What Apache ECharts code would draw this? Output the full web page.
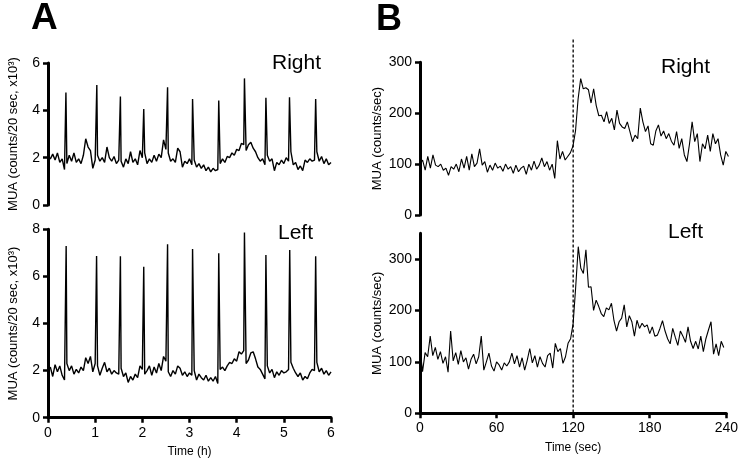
<!DOCTYPE html>
<html><head><meta charset="utf-8">
<script src="https://cdn.jsdelivr.net/npm/echarts@6/dist/echarts.min.js"></script>
<style>html,body{margin:0;padding:0;background:#fff}#c{width:741px;height:463px}</style>
</head><body><div id="c"></div>
<script>
// ---------- DATA ----------
// Panel A: MUA (counts/20 sec, x10^3) vs time (h); baseline sampled every 0.05 h, spikes listed separately
const A_STEP = 0.05;
const aXTicks = [0, 1, 2, 3, 4, 5, 6];
const aRightBaseline = [
  2.05, 1.95, 2.15, 1.9, 2.2, 1.8, 1.95, 1.5, 1.75, 2.1,
  1.85, 2.2, 1.8, 1.95, 1.75, 2.1, 2.8, 2.45, 2.3, 1.55,
  1.9, 2.1, 1.85, 2.0, 1.8, 2.45, 2.0, 1.85, 2.05, 1.75,
  1.9, 1.85, 1.6, 1.95, 1.75, 2.25, 1.8, 1.95, 1.7, 2.3,
  2.0, 2.2, 1.75, 1.95, 1.8, 2.1, 1.85, 2.15, 2.0, 2.75,
  2.35, 2.2, 1.85, 1.95, 1.8, 2.4, 2.25, 1.6, 1.85, 1.75,
  1.95, 1.7, 1.9, 1.6, 1.75, 1.55, 1.7, 1.45, 1.6, 1.4,
  1.55, 1.45, 1.5, 1.75, 1.95, 1.8, 2.05, 2.0, 2.2, 2.1,
  2.35, 2.3, 2.6, 2.55, 2.3, 2.55, 2.65, 2.4, 2.25, 2.0,
  1.85, 1.95, 1.7, 2.1, 1.85, 1.95, 1.45, 1.8, 1.7, 1.9,
  1.75, 2.0, 1.85, 2.25, 1.7, 1.8, 1.5, 1.65, 1.45, 1.9,
  1.8, 1.95, 1.85, 1.9, 2.25, 1.85, 2.05, 1.75, 1.95, 1.7,
  1.8
];
const aRightSpikeTimes = [0.38, 1.035, 1.535, 2.03, 2.535, 3.065, 3.62, 4.165, 4.62, 5.12, 5.675];
const aRightSpikePeaks = [4.75, 5.07, 4.58, 4.06, 4.97, 4.48, 4.41, 5.35, 4.53, 4.55, 4.48];

const aLeftBaseline = [
  2.0, 2.15, 1.75, 2.25, 1.95, 2.2, 1.8, 1.6, 2.3, 2.0,
  2.2, 1.85, 2.05, 1.9, 2.15, 2.0, 2.55, 2.3, 2.6, 1.95,
  2.3, 2.2, 1.8, 2.1, 2.35, 1.95, 2.1, 1.85, 2.0, 1.9,
  1.85, 2.1, 1.75, 1.9, 1.5, 1.75, 1.6, 1.85, 1.7, 2.2,
  2.05, 1.85, 2.0, 2.2, 1.8, 2.15, 1.9, 2.3, 2.0, 2.6,
  2.4, 1.95, 1.75, 2.0, 1.85, 2.2, 2.1, 1.8, 1.95, 1.75,
  1.9, 1.8, 2.0, 1.6, 1.85, 1.7, 1.6, 1.8, 1.55, 1.7,
  1.55, 1.75, 1.45, 2.05, 2.15, 2.0, 2.2, 2.35, 2.3, 2.5,
  2.4, 2.8, 2.7, 2.85, 2.3, 2.45, 2.75, 2.8, 2.5, 2.15,
  2.05, 1.85, 1.65, 2.2, 1.9, 2.05, 1.7, 1.95, 1.8, 2.0,
  1.9, 1.95, 2.05, 2.35, 2.1, 1.9, 1.75, 1.9, 1.6, 1.75,
  1.65, 1.9, 2.05, 2.0, 2.35, 1.95, 2.1, 1.85, 2.0, 1.8,
  1.95
];
const aLeftSpikeTimes = [0.385, 1.03, 1.535, 2.03, 2.535, 3.065, 3.62, 4.165, 4.62, 5.125, 5.675];
const aLeftSpikePeaks = [7.29, 6.87, 6.86, 6.41, 7.37, 7.16, 6.98, 7.86, 6.91, 7.12, 6.86];

// Panel B: MUA (counts/sec) vs time (sec), sampled every 2 s
const B_STEP = 2;
const bXTicks = [0, 60, 120, 180, 240];
const bStimTime = 120;
const bRight = [
  100, 108, 88, 115, 92, 118, 98, 95, 100, 88,
  92, 78, 95, 90, 100, 85, 110, 92, 115, 88,
  120, 95, 102, 130, 98, 105, 84, 98, 88, 102,
  92, 96, 86, 100, 90, 95, 82, 98, 85, 92,
  96, 80, 100, 88, 106, 90, 98, 112, 95, 105,
  88, 100, 72, 146, 110, 125, 108, 115, 122, 135,
  165, 228, 268, 248, 250, 246, 220, 248, 215, 195,
  196, 183, 203, 180, 190, 167, 206, 180, 173, 170,
  183, 164, 144, 157, 150, 210, 183, 164, 175, 140,
  137, 165, 177, 155, 165, 150, 160, 145, 137, 164,
  131, 150, 118, 105, 140, 183, 144, 160, 105, 140,
  130, 157, 125, 160, 140, 150, 118, 98, 125, 115
];
const bLeft = [
  126, 81, 118, 110, 150, 112, 128, 105, 120, 97,
  110, 80, 160, 102, 118, 95, 122, 100, 108, 86,
  105, 115, 96, 110, 150, 84, 100, 117, 92, 82,
  100, 94, 84, 98, 92, 100, 117, 96, 112, 90,
  108, 84, 103, 126, 98, 112, 90, 110, 97, 90,
  112, 117, 88, 136, 120, 126, 97, 110, 136, 145,
  175, 246, 324, 282, 272, 318, 245, 246, 200, 220,
  208, 194, 188, 205, 201, 214, 180, 160, 178, 185,
  211, 168, 190, 178, 150, 181, 165, 175, 168, 172,
  155, 168, 150, 152, 165, 180, 160, 145, 135, 165,
  148, 132, 160, 150, 138, 168, 140, 126, 140, 125,
  150, 120, 145, 162, 178, 115, 135, 112, 140, 128
];
const bLeftYTicks = [0, 100, 200, 300];

// ---------- BUILD ----------
const FONT = '"Liberation Sans", Arial, Helvetica, sans-serif';
function buildA(base, st, sv) {
  const pts = base.map((v, i) => [Math.round(i * A_STEP * 1000) / 1000, v]);
  st.forEach((t, k) => pts.push([t, sv[k]]));
  pts.sort((a, b) => a[0] - b[0]);
  return pts;
}
function buildB(vals) { return vals.map((v, i) => [i * B_STEP, v]); }

const lineAx = { show: true, lineStyle: { color: '#000', width: 3 } };
const tickAx = { show: true, inside: false, length: 5, lineStyle: { color: '#000', width: 2.5 } };
const lblAx = { color: '#000', fontSize: 14, fontFamily: FONT, margin: 8 };
const nameStyle = { color: '#000', fontSize: 13, fontFamily: FONT };

function hiddenX(grid, max) {
  return { type: 'value', gridIndex: grid, min: 0, max: max, show: false, splitLine: { show: false } };
}
function shownX(grid, max, interval, name) {
  return {
    type: 'value', gridIndex: grid, min: 0, max: max, interval: interval,
    axisLine: lineAx, axisTick: tickAx, axisLabel: lblAx, splitLine: { show: false },
    name: name, nameLocation: 'middle', nameGap: 28,
    nameTextStyle: { color: '#000', fontSize: 12, fontFamily: FONT }
  };
}
function yAx(grid, max, interval, name, gap, custom) {
  const o = {
    type: 'value', gridIndex: grid, min: 0, max: max,
    axisLine: lineAx, axisTick: Object.assign({}, tickAx),
    axisLabel: Object.assign({}, lblAx), splitLine: { show: false },
    name: name, nameLocation: 'middle', nameGap: gap, nameTextStyle: nameStyle
  };
  if (custom) {
    o.axisTick.customValues = custom;
    o.axisLabel.customValues = custom;
    o.interval = 100;
  } else {
    o.interval = interval;
  }
  return o;
}
function ser(xi, yi, data, w) {
  return {
    type: 'line', xAxisIndex: xi, yAxisIndex: yi, data: data,
    showSymbol: false, symbol: 'none', animation: false, clip: false,
    lineStyle: { color: '#000', width: w }
  };
}

const chart = echarts.init(document.getElementById('c'), null, { renderer: 'canvas' });
const option = {
  backgroundColor: '#fff',
  animation: false,
  grid: [
    { left: 48, top: 63, width: 283, height: 142 },
    { left: 48, top: 229.3, width: 283, height: 188.4 },
    { left: 420, top: 62.3, width: 311, height: 152.7 },
    { left: 420, top: 233.3, width: 311, height: 180 }
  ],
  xAxis: [
    hiddenX(0, 6),
    shownX(1, 6, 1, 'Time (h)'),
    hiddenX(2, 240),
    shownX(3, 240, 60, 'Time (sec)')
  ],
  yAxis: [
    yAx(0, 6, 2, 'MUA (counts/20 sec, x10³)', 28),
    yAx(1, 8, 2, 'MUA (counts/20 sec, x10³)', 28),
    yAx(2, 300, 100, 'MUA (counts/sec)', 36),
    yAx(3, 350, 100, 'MUA (counts/sec)', 36, bLeftYTicks)
  ],
  series: [
    ser(0, 0, buildA(aRightBaseline, aRightSpikeTimes, aRightSpikePeaks), 1.4),
    ser(1, 1, buildA(aLeftBaseline, aLeftSpikeTimes, aLeftSpikePeaks), 1.4),
    ser(2, 2, buildB(bRight), 1.1),
    ser(3, 3, buildB(bLeft), 1.1)
  ],
  graphic: [
    { type: 'text', left: 31, top: 0, style: { text: 'A', fontSize: 37, fontWeight: 'bold', fontFamily: FONT, fill: '#000' } },
    { type: 'text', left: 376, top: 2, style: { text: 'B', fontSize: 36, fontWeight: 'bold', fontFamily: FONT, fill: '#000' } },
    { type: 'text', left: 272, top: 53, style: { text: 'Right', fontSize: 21, fontFamily: FONT, fill: '#000' } },
    { type: 'text', left: 278, top: 223, style: { text: 'Left', fontSize: 21, fontFamily: FONT, fill: '#000' } },
    { type: 'text', left: 661, top: 57, style: { text: 'Right', fontSize: 21, fontFamily: FONT, fill: '#000' } },
    { type: 'text', left: 668, top: 222, style: { text: 'Left', fontSize: 21, fontFamily: FONT, fill: '#000' } }
  ]
};
chart.setOption(option);

// dashed stimulus line at t = 120 s spanning both B panels, positioned via the axes' own scales
const sx = chart.convertToPixel({ xAxisIndex: 3 }, bStimTime);
const syTop = chart.convertToPixel({ yAxisIndex: 2 }, 345);
const syBot = chart.convertToPixel({ yAxisIndex: 3 }, 0);
chart.setOption({
  graphic: option.graphic.concat([{
    type: 'line', shape: { x1: sx, y1: syTop, x2: sx, y2: syBot },
    style: { stroke: '#000', lineWidth: 1.3, lineDash: [3, 2] }, z: 10
  }])
});
</script>
</body></html>
